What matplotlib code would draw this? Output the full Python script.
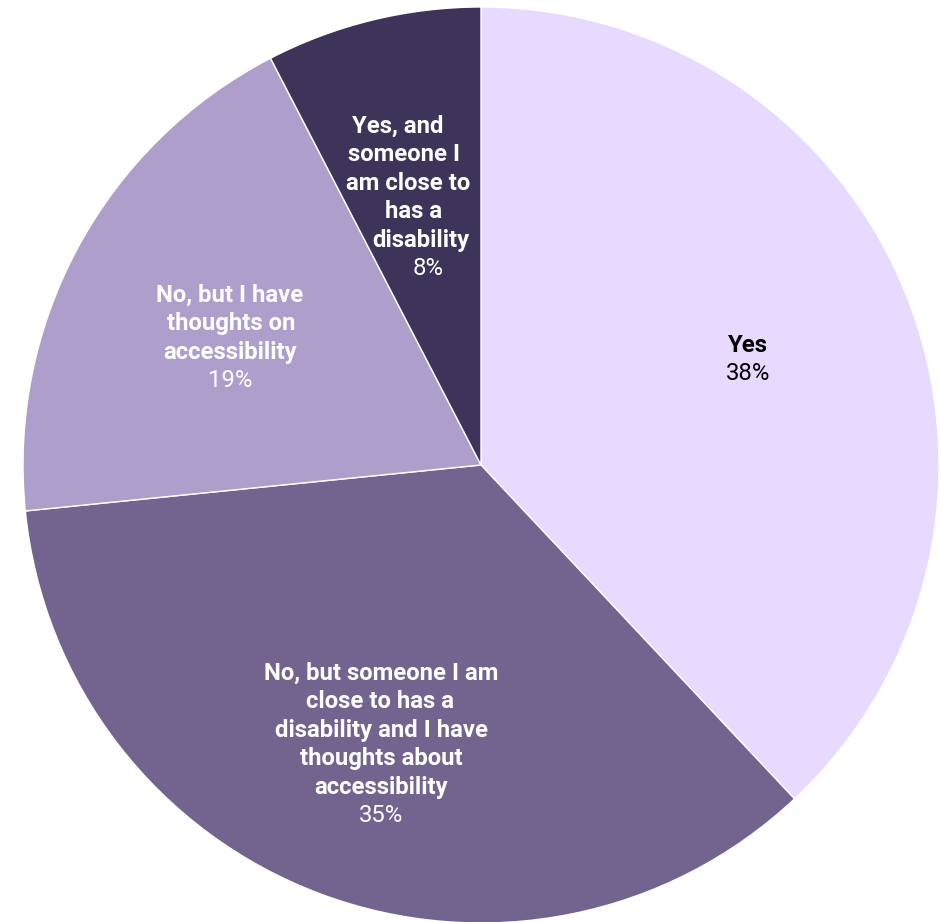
import matplotlib.pyplot as plt

plt.rcParams['font.family'] = ['Roboto', 'DejaVu Sans']

# Dane
labels = ['Yes',
          'No, but someone I am\nclose to has a\ndisability and I have\nthoughts about\naccessibility',
          'No, but I have\nthoughts on\naccessibility',
          'Yes, and\nsomeone I\nam close to\nhas a\ndisability']
values = [38.0, 35.4, 19.0, 7.6]
pct_labels = ['38%', '35%', '19%', '8%']
colors = ['#E8DAFE', '#72648F', '#AE9ECC', '#3E3459']
text_colors = ['black', 'white', 'white', 'white']

W, H = 940, 922
cx, cy, R = 481, 465, 458

fig = plt.figure(figsize=(W / 100, H / 100), dpi=100)
ax = fig.add_axes([0, 0, 1, 1])
ax.pie(values, colors=colors, startangle=90, counterclock=False, radius=1,
       wedgeprops=dict(edgecolor='white', linewidth=1))
ax.set_xlim(-cx / R, (W - cx) / R)
ax.set_ylim(-(H - cy) / R, cy / R)
ax.set_aspect('auto')
ax.axis('off')

# pozycje etykiet w pikselach: srodki x kolejnych linii, y pierwszej linii
label_x = [[748, 748],
           [381, 380, 381, 381, 381, 381],
           [230, 231, 230, 230],
           [398, 404, 408, 414, 421, 428]]
label_y = [345, 673, 295, 126]
pitch = 28.5

for lab, pct, tc, xs, py in zip(labels, pct_labels, text_colors, label_x, label_y):
    lines = lab.split('\n') + [pct]
    for i, line in enumerate(lines):
        y = py + i * pitch
        bold = i < len(lines) - 1
        ax.text((xs[i] - cx) / R, (cy - y) / R, line, ha='center', va='center',
                fontsize=17.2, fontweight='bold' if bold else 'normal', color=tc)

fig.savefig('out.png', dpi=100, facecolor='white')
